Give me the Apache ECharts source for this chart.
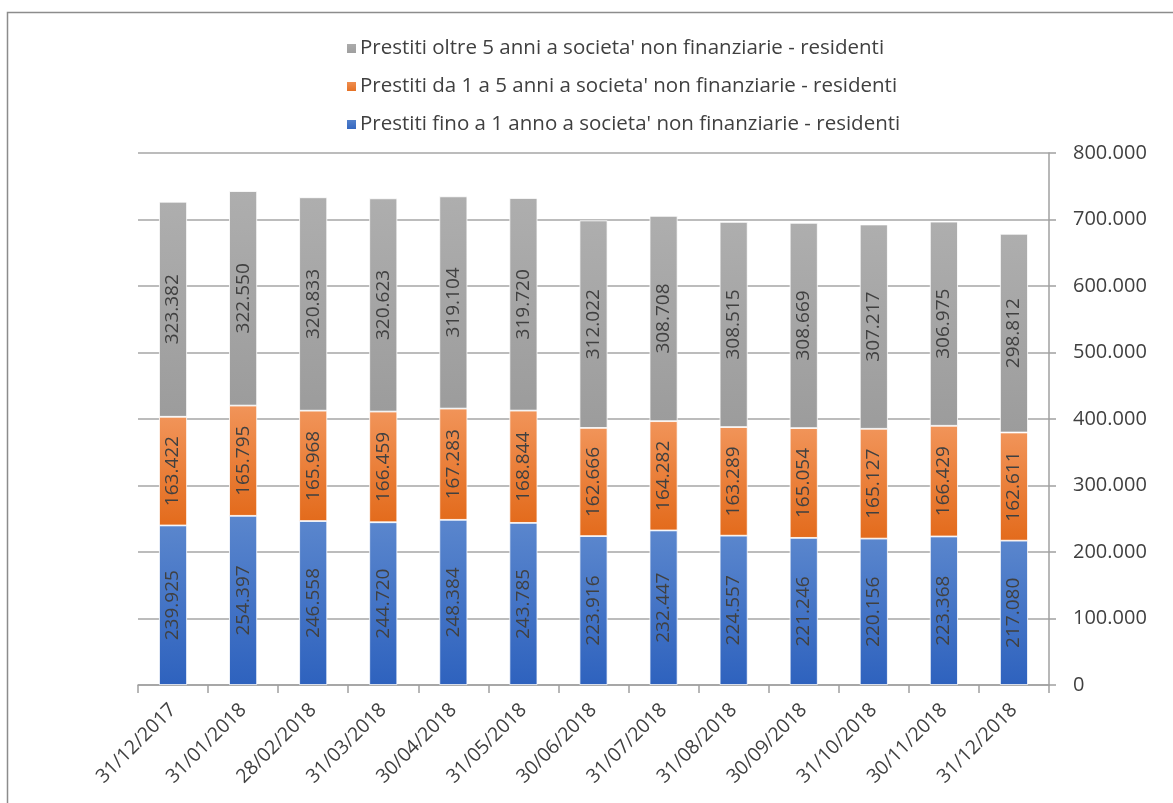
<!DOCTYPE html>
<html>
<head>
<meta charset="utf-8">
<script src="https://cdn.jsdelivr.net/npm/echarts@6/dist/echarts.min.js"></script>
<style>
  html, body { margin: 0; padding: 0; background: #ffffff; }
  #chart { width: 1173px; height: 803px; }
</style>
</head>
<body>
<div id="chart"></div>
<script>
// Month-end reference dates
const categories = [
  '31/12/2017', '31/01/2018', '28/02/2018', '31/03/2018', '30/04/2018',
  '31/05/2018', '30/06/2018', '31/07/2018', '31/08/2018', '30/09/2018',
  '31/10/2018', '30/11/2018', '31/12/2018'
];

// Loans to non-financial resident companies, by maturity
const finoUnAnno = [239925, 254397, 246558, 244720, 248384, 243785, 223916, 232447, 224557, 221246, 220156, 223368, 217080];
const daUnoACinque = [163422, 165795, 165968, 166459, 167283, 168844, 162666, 164282, 163289, 165054, 165127, 166429, 162611];
const oltreCinque = [323382, 322550, 320833, 320623, 319104, 319720, 312022, 308708, 308515, 308669, 307217, 306975, 298812];

const seriesNames = [
  "Prestiti fino a 1 anno a societa' non finanziarie - residenti",
  "Prestiti da 1 a 5 anni a societa' non finanziarie - residenti",
  "Prestiti oltre 5 anni a societa' non finanziarie - residenti"
];

const yTicks = { min: 0, max: 800000, interval: 100000 };

// Italian thousands separator
function fmt(v) {
  return String(Math.round(v)).replace(/\B(?=(\d{3})+(?!\d))/g, '.');
}

function grad(top, bottom) {
  return {
    type: 'linear', x: 0, y: 0, x2: 0, y2: 1,
    colorStops: [{ offset: 0, color: top }, { offset: 1, color: bottom }]
  };
}

const FONT = '"Open Sans", "Noto Sans", sans-serif';
const TEXT = '#404040';

function barSeries(name, data, color) {
  return {
    name: name,
    type: 'bar',
    stack: 'total',
    barWidth: 28,
    data: data,
    itemStyle: { color: color, borderColor: '#ffffff', borderWidth: 0.8 },
    label: {
      show: true,
      position: 'inside',
      rotate: 90,
      color: TEXT,
      fontFamily: FONT,
      fontSize: 19,
      formatter: p => fmt(p.value)
    }
  };
}

const chart = echarts.init(document.getElementById('chart'), null, { renderer: 'canvas' });

chart.setOption({
  animation: false,
  backgroundColor: '#ffffff',
  graphic: [{
    type: 'rect',
    shape: { x: 7.5, y: 12.5, width: 1200, height: 820 },
    style: { fill: 'none', stroke: '#8c8c8c', lineWidth: 1.5 },
    silent: true
  }],
  legend: {
    orient: 'vertical',
    left: 345,
    top: 38,
    padding: 0,
    itemGap: 17,
    itemWidth: 11,
    itemHeight: 11,
    icon: 'rect',
    data: [seriesNames[2], seriesNames[1], seriesNames[0]],
    textStyle: { color: TEXT, fontFamily: FONT, fontSize: 20.5, padding: [0, 0, 0, -2] }
  },
  grid: { left: 138, right: 124, top: 153, bottom: 118, containLabel: false },
  xAxis: {
    type: 'category',
    data: categories,
    boundaryGap: true,
    axisLine: { show: true, lineStyle: { color: '#a0a0a0', width: 1.5 } },
    axisTick: { show: true, alignWithLabel: false, length: 8, lineStyle: { color: '#a0a0a0', width: 1.5 } },
    axisLabel: {
      interval: 0,
      rotate: 45,
      margin: 22,
      color: TEXT,
      fontFamily: FONT,
      fontSize: 19.5
    }
  },
  yAxis: {
    type: 'value',
    position: 'right',
    min: yTicks.min,
    max: yTicks.max,
    interval: yTicks.interval,
    axisLine: { show: true, lineStyle: { color: '#a0a0a0', width: 1.5 } },
    axisTick: { show: true, length: 7, lineStyle: { color: '#a0a0a0', width: 1.5 } },
    splitLine: { show: true, lineStyle: { color: '#a6a6a6', width: 1.5 } },
    axisLabel: {
      margin: 24,
      color: TEXT,
      fontFamily: FONT,
      fontSize: 20,
      formatter: v => fmt(v)
    }
  },
  series: [
    barSeries(seriesNames[0], finoUnAnno, grad('#5a86cd', '#2e62be')),
    barSeries(seriesNames[1], daUnoACinque, grad('#f19459', '#e36b1c')),
    barSeries(seriesNames[2], oltreCinque, grad('#aeaeae', '#9c9c9c'))
  ]
});
</script>
</body>
</html>
